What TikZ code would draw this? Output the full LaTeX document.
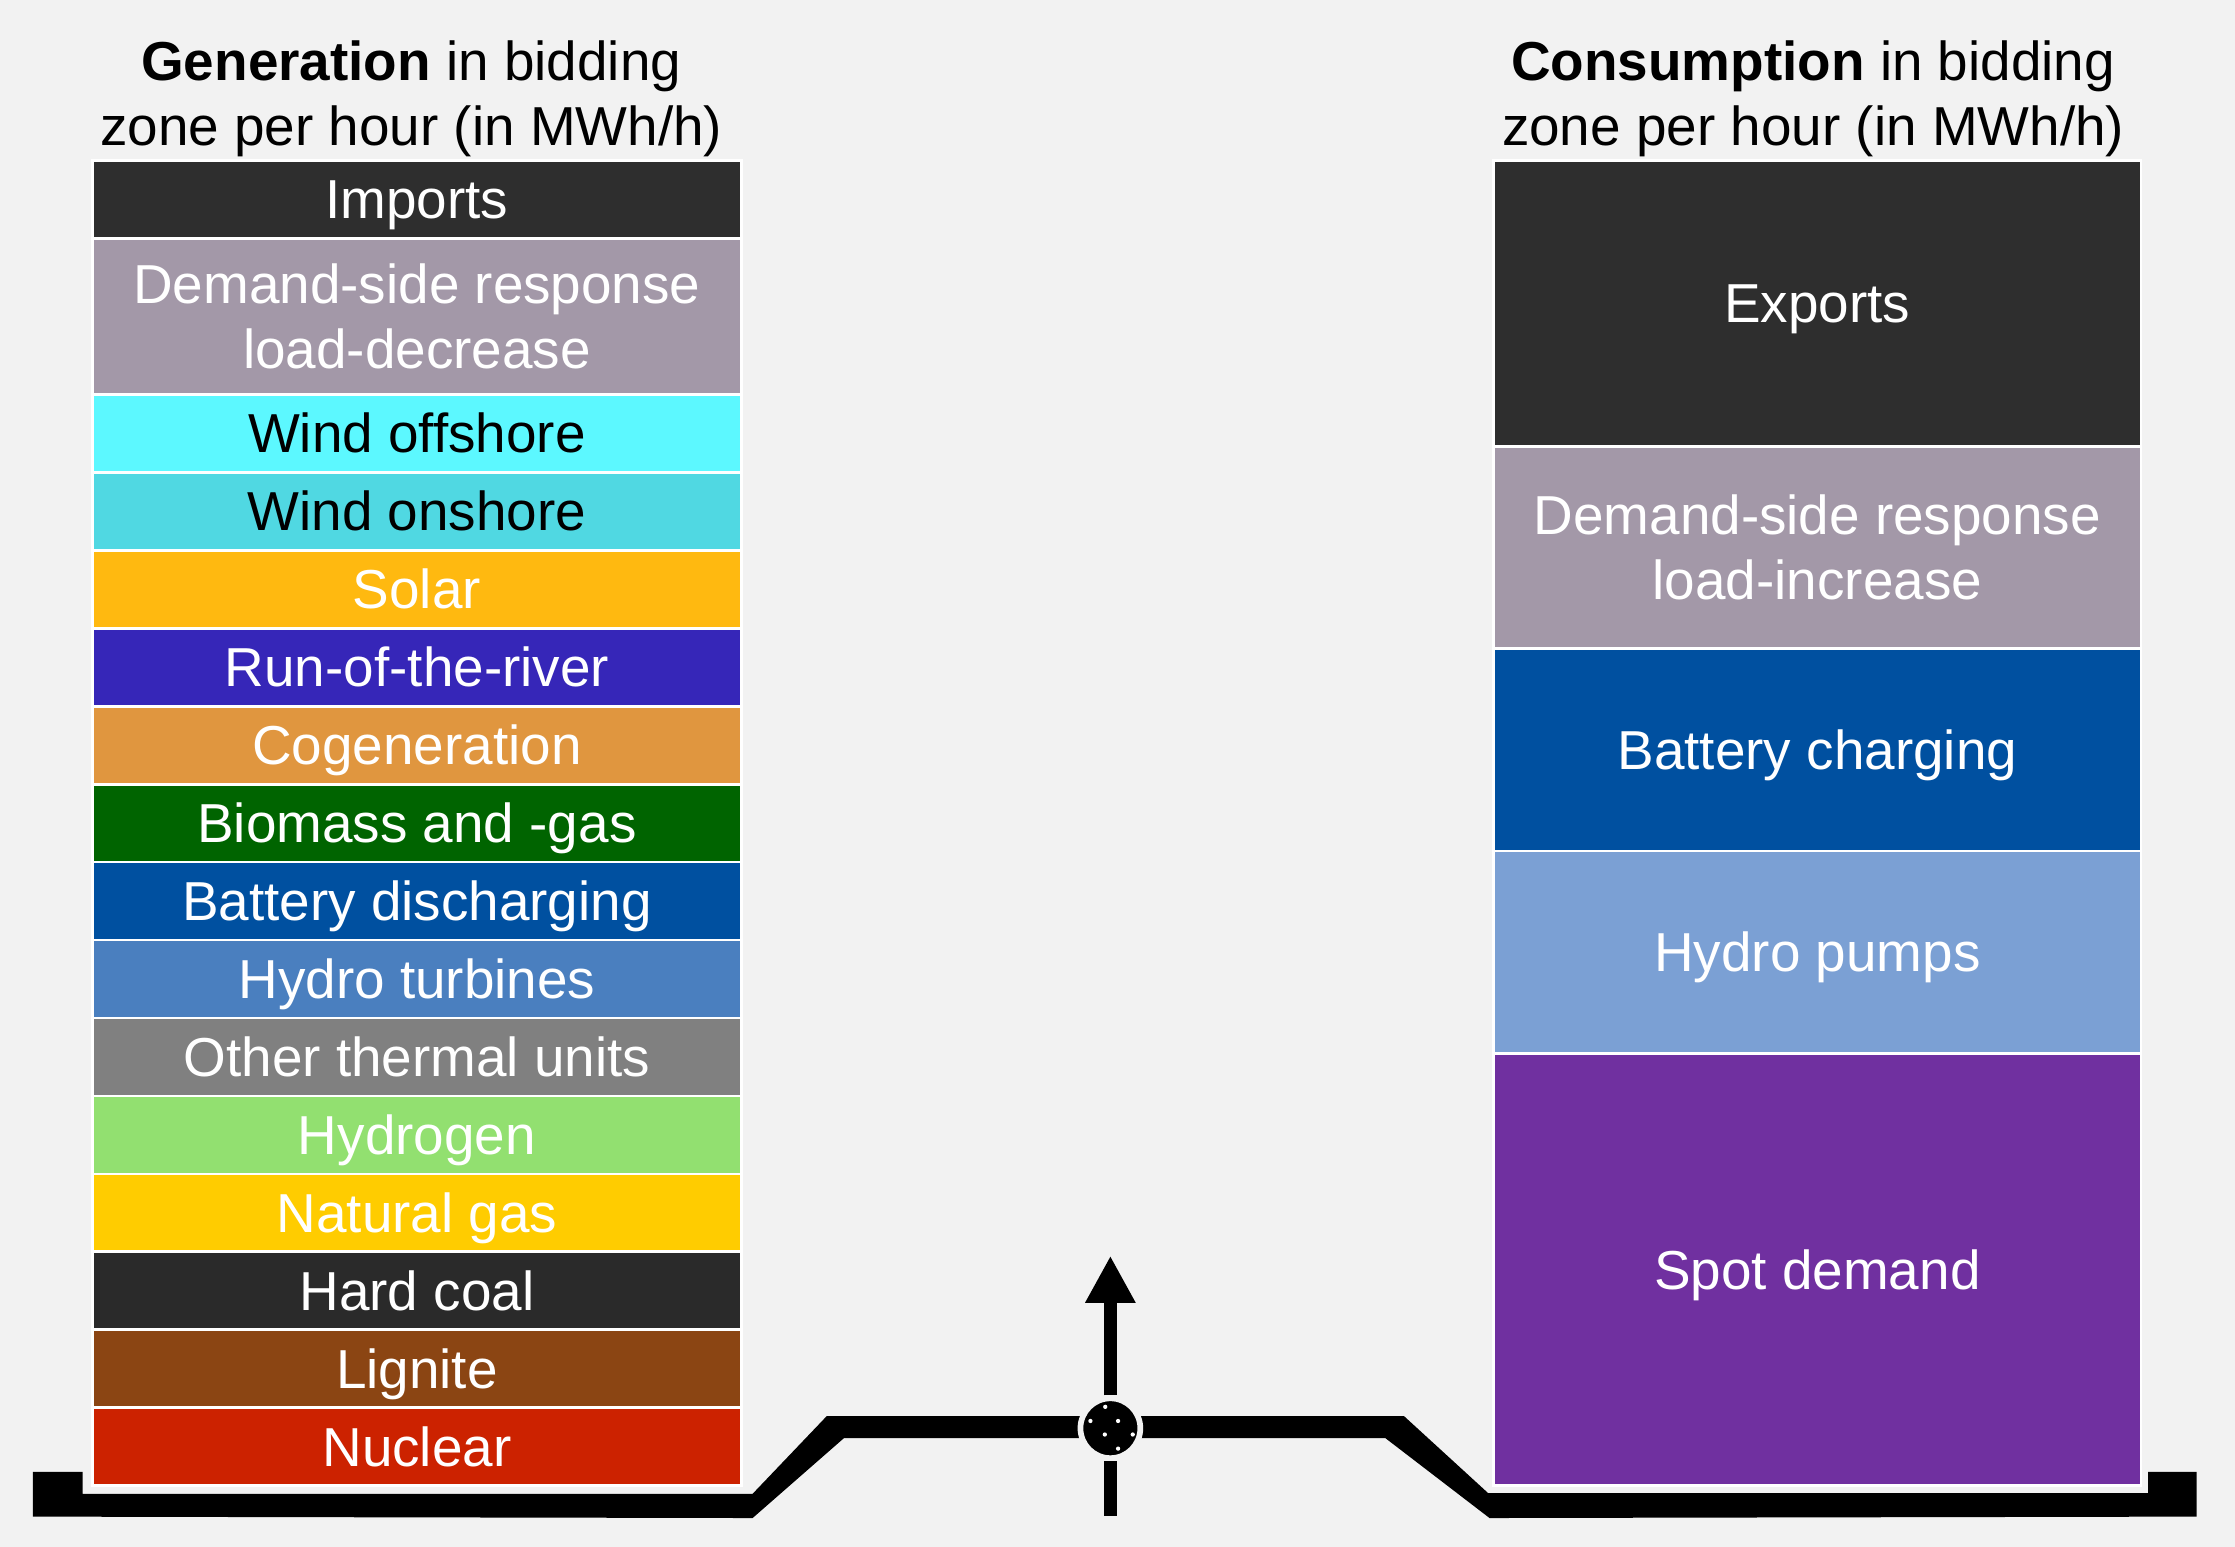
\documentclass[tikz,border=0pt]{standalone}
\usepackage{fontspec}
\setmainfont{Liberation Sans}
\usepackage{xcolor}
\usepackage{tikz}
\usetikzlibrary{arrows.meta,positioning}
\definecolor{canvas}{HTML}{F2F2F2}
\definecolor{trade}{HTML}{2E2E2E}
\definecolor{dsr}{HTML}{A398A8}
\definecolor{windoff}{HTML}{5CF8FF}
\definecolor{windon}{HTML}{50D8E2}
\definecolor{solar}{HTML}{FFB910}
\definecolor{river}{HTML}{3626B8}
\definecolor{chp}{HTML}{E0963F}
\definecolor{biomass}{HTML}{006400}
\definecolor{battery}{HTML}{0050A0}
\definecolor{turbine}{HTML}{4A7FBF}
\definecolor{thermal}{HTML}{808080}
\definecolor{hydrogen}{HTML}{92E070}
\definecolor{natgas}{HTML}{FFCC00}
\definecolor{coal}{HTML}{2A2A2A}
\definecolor{lignite}{HTML}{8B4513}
\definecolor{nuclear}{HTML}{CC2200}
\definecolor{pumps}{HTML}{7BA0D4}
\definecolor{spot}{HTML}{7030A0}
\tikzset{
  stack/.style={rectangle, draw=white, line width=2pt, inner sep=0pt, outer sep=0pt,
    align=center, text=white, font=\fontsize{38.5}{46}\selectfont},
  single/.style={text height=27.6pt, text depth=0pt},
  genbox/.style={stack, single, minimum width=455pt, minimum height=54.7pt},
  conbox/.style={stack, single, minimum width=454pt},
  twoline/.style={stack, minimum width=#1},
  heading/.style={align=center, inner sep=0pt, font=\fontsize{38.5}{46}\selectfont},
  lever/.style={line width=9pt, black},
  pivot/.style={circle, fill=black, draw=canvas, line width=4pt, minimum size=42pt, inner sep=0pt},
}
\begin{document}
\begin{tikzpicture}[x=1pt, y=1pt]
  \fill[canvas] (0,0) rectangle (1568,1085);

  % generation side
  \node[genbox, fill=trade, anchor=north] (imports) at (292.5,972.5) {Imports};
  \node[twoline=455pt, fill=dsr, minimum height=109.4pt, below=0pt of imports] (dsrdown) {Demand-side response\\load-decrease};
  \node[genbox, fill=windoff, text=black, below=0pt of dsrdown] (offshore) {Wind offshore};
  \node[genbox, fill=windon, text=black, below=0pt of offshore] (onshore) {Wind onshore};
  \node[genbox, fill=solar, below=0pt of onshore] (pv) {Solar};
  \node[genbox, fill=river, below=0pt of pv] (ror) {Run-of-the-river};
  \node[genbox, fill=chp, below=0pt of ror] (cogen) {Cogeneration};
  \node[genbox, fill=biomass, below=0pt of cogen] (bio) {Biomass and -gas};
  \node[genbox, fill=battery, below=0pt of bio] (discharge) {Battery discharging};
  \node[genbox, fill=turbine, below=0pt of discharge] (hydroturb) {Hydro turbines};
  \node[genbox, fill=thermal, below=0pt of hydroturb] (other) {Other thermal units};
  \node[genbox, fill=hydrogen, below=0pt of other] (htwo) {Hydrogen};
  \node[genbox, fill=natgas, below=0pt of htwo] (gas) {Natural gas};
  \node[genbox, fill=coal, below=0pt of gas] (hardcoal) {Hard coal};
  \node[genbox, fill=lignite, below=0pt of hardcoal] (brown) {Lignite};
  \node[genbox, fill=nuclear, below=0pt of brown] (nuke) {Nuclear};
  \node[heading, above=2pt of imports, xshift=-4pt] (gentitle) {\textbf{Generation} in bidding\\zone per hour (in MWh/h)};

  % consumption side
  \node[conbox, fill=trade, minimum height=200.5pt, anchor=north] (exports) at (1275,972.5) {Exports};
  \node[twoline=454pt, fill=dsr, minimum height=142pt, below=0pt of exports] (dsrup) {Demand-side response\\load-increase};
  \node[conbox, fill=battery, minimum height=142pt, below=0pt of dsrup] (charge) {Battery charging};
  \node[conbox, fill=pumps, minimum height=142pt, below=0pt of charge] (hydropump) {Hydro pumps};
  \node[conbox, fill=spot, minimum height=303.4pt, below=0pt of hydropump] (demand) {Spot demand};
  \node[heading, above=2pt of exports, xshift=-3pt] (contitle) {\textbf{Consumption} in bidding\\zone per hour (in MWh/h)};

  % balance beam
  \fill[black] (23,52.4) -- (58,52.4) -- (58,37) -- (528,37) -- (580,91.5) -- (985,91.5)
    -- (1044,37.5) -- (1507,37.5) -- (1507,52.4) -- (1541,52.4) -- (1541,21)
    -- (1045,20) -- (972,76) -- (592,76) -- (528,20) -- (23,21) -- cycle;
  \coordinate (tip) at (779,204);
  \coordinate (foot) at (779,21.4);
  \node[pivot] (pivot) at (779,83) {};
  \draw[lever, -{Triangle[length=33pt,width=33pt]}] (pivot) -- (tip);
  \draw[lever] (pivot) -- (foot);
  \foreach \dx/\dy in {-3.6/15, -14/5.1, 5.4/5.1, -3.9/-4.4, 15.7/-4.4, 5.4/-14.3}
    \fill[white] (pivot.center) ++(\dx,\dy) circle (1.5pt);
\end{tikzpicture}
\end{document}
